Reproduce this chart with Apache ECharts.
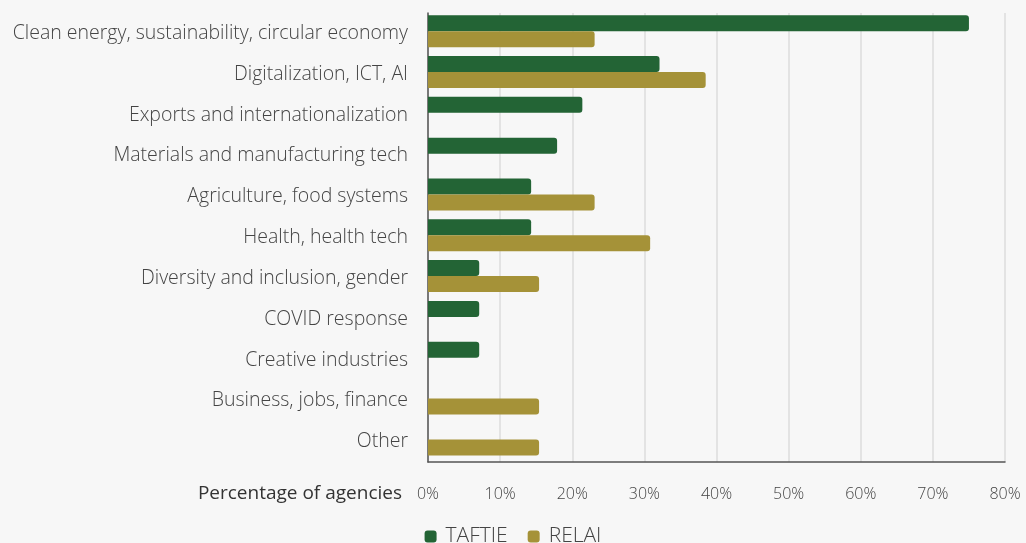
<!DOCTYPE html>
<html>
<head>
<meta charset="utf-8">
<script src="https://cdn.jsdelivr.net/npm/echarts@6/dist/echarts.min.js"></script>
<style>
  html, body { margin: 0; padding: 0; background: #f7f7f7; }
  #chart { width: 1026px; height: 543px; }
</style>
</head>
<body>
<div id="chart"></div>
<script>
// Thematic focus areas of innovation agencies
const categories = [
  'Clean energy, sustainability, circular economy',
  'Digitalization, ICT, AI',
  'Exports and internationalization',
  'Materials and manufacturing tech',
  'Agriculture, food systems',
  'Health, health tech',
  'Diversity and inclusion, gender',
  'COVID response',
  'Creative industries',
  'Business, jobs, finance',
  'Other'
];
// Share of agencies (%) per network; null = not mentioned
const taftie = [75.0, 32.1, 21.4, 17.9, 14.3, 14.3, 7.1, 7.1, 7.1, null, null];
const relai  = [23.1, 38.5, null, null, 23.1, 30.8, 15.4, null, null, 15.4, 15.4];
const xTicks = [0, 10, 20, 30, 40, 50, 60, 70, 80];

const FONT = '"Open Sans", Lato, sans-serif';
const chart = echarts.init(document.getElementById('chart'));

chart.setOption({
  backgroundColor: '#f7f7f7',
  animation: false,
  grid: { left: 428, right: 21, top: 13, bottom: 81, containLabel: false },
  legend: {
    data: ['TAFTIE', 'RELAI'],
    left: 'center',
    top: 521,
    icon: 'roundRect',
    itemWidth: 12,
    itemHeight: 12,
    itemGap: 20,
    textStyle: { fontFamily: FONT, fontSize: 21, fontWeight: 300, color: '#444', padding: [0, 0, 0, 4] }
  },
  xAxis: {
    type: 'value',
    min: xTicks[0],
    max: xTicks[xTicks.length - 1],
    interval: 10,
    name: 'Percentage of agencies',
    nameLocation: 'start',
    nameGap: 26,
    nameTextStyle: {
      fontFamily: FONT, fontSize: 19, color: '#333',
      verticalAlign: 'top', padding: [22, 0, 0, 0]
    },
    axisLine: { show: true, lineStyle: { color: '#555', width: 1.5 } },
    axisTick: { show: false },
    axisLabel: {
      margin: 24,
      fontFamily: FONT, fontSize: 16, fontWeight: 300, color: '#444',
      formatter: v => v + '%'
    },
    splitLine: { show: true, lineStyle: { color: '#dcdcdc', width: 1.5 } }
  },
  yAxis: {
    type: 'category',
    data: categories,
    inverse: true,
    axisLine: { show: true, lineStyle: { color: '#555', width: 1.5 } },
    axisTick: { show: false },
    axisLabel: {
      margin: 20,
      fontFamily: FONT, fontSize: 19.5, fontWeight: 300, color: '#444',
      verticalAlign: 'middle', lineHeight: 20, padding: [0, 0, 2, 0]
    }
  },
  series: [
    {
      name: 'TAFTIE',
      type: 'bar',
      data: taftie,
      barWidth: 16,
      barGap: '0%',
      itemStyle: { color: '#236435', borderRadius: [0, 3, 3, 0] }
    },
    {
      name: 'RELAI',
      type: 'bar',
      data: relai,
      barWidth: 16,
      itemStyle: { color: '#a59238', borderRadius: [0, 3, 3, 0] }
    },
    {
      // empty spacer slot: keeps each bar pair sitting a little above the band centre
      name: 'spacer',
      type: 'bar',
      data: [],
      barWidth: 4.4,
      silent: true
    }
  ]
});
</script>
</body>
</html>
